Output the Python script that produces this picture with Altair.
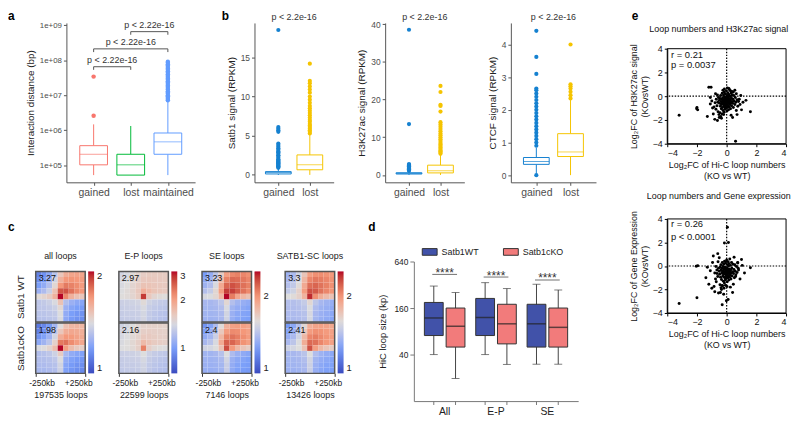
import altair as alt
import pandas as pd

FONT = "Liberation Sans"
GREY_TXT = "#4d4d4d"
GREY_LINE = "#555555"
COOLWARM = ["#3b4cc0", "#7b9ff9", "#dddddd", "#f4987a", "#b40426"]

# ===================== panel a =====================
a_groups = ["gained", "lost", "maintained"]
a_colors = ["#f8766d", "#00ba38", "#619cff"]
a_low = [5.3e4, 5.3e4, 5.3e4]
a_q1 = [1.04e5, 5.3e4, 2.08e5]
a_median = [2.08e5, 1.04e5, 4.7e5]
a_q3 = [3.66e5, 2.08e5, 8.4e5]
a_high = [1.48e6, 1.33e6, 6.8e6]
a_out_gained = [2.6e6, 3.4e7]
a_out_lost = []
a_out_maintained = [7.2e6, 7.8e6, 8.5e6, 9.3e6, 1.0e7, 1.1e7, 1.2e7, 1.3e7, 1.45e7,
                    1.6e7, 1.75e7, 1.9e7, 2.1e7, 2.3e7, 2.5e7, 2.75e7, 3.0e7, 3.3e7,
                    3.6e7, 4.0e7, 4.4e7, 4.8e7, 5.3e7, 5.8e7, 6.4e7, 7.0e7, 7.7e7,
                    8.4e7, 9.0e7]
a_comp_left = ["gained", "gained", "lost"]
a_comp_right = ["lost", "maintained", "maintained"]
a_comp_y = [6.5e7, 2.1e8, 6.5e8]
a_comp_tip = [5.3e7, 1.7e8, 5.3e8]
a_comp_label = ["p < 2.22e-16", "p < 2.22e-16", "p < 2.22e-16"]

# ===================== panel b =====================
b_groups = ["gained", "lost"]
b_colors = ["#1581d0", "#f5c400"]
b_pvalue = "p < 2.2e-16"

b1_low = [0.0, 0.0]
b1_q1 = [0.12, 0.65]
b1_median = [0.3, 1.3]
b1_q3 = [0.42, 2.55]
b1_high = [0.85, 5.2]
b1_out_gained = [0.9, 1.0, 1.1, 1.2, 1.3, 1.4, 1.5, 1.6, 1.7, 1.8, 1.9, 2.0, 2.2, 2.4,
                 2.5, 2.7, 2.9, 3.0, 3.2, 3.4, 3.6, 3.8, 4.0, 5.5, 5.7, 5.9, 6.1, 18.5]
b1_out_lost = [5.3, 5.5, 5.7, 5.9, 6.1, 6.3, 6.5, 6.8, 7.0, 7.3, 7.6, 7.9, 8.2, 8.5,
               8.8, 9.2, 9.6, 10.0, 10.5, 10.9, 11.3, 11.7, 12.0, 14.2]

b2_low = [0.0, 0.0]
b2_q1 = [0.25, 0.55]
b2_median = [0.4, 1.1]
b2_q3 = [0.6, 2.6]
b2_high = [1.0, 5.5]
b2_out_gained = [1.1, 1.3, 1.5, 1.7, 1.9, 2.1, 2.3, 2.5, 2.7, 2.9, 13.5, 38.5]
b2_out_lost = [5.6, 5.9, 6.2, 6.5, 6.9, 7.3, 7.7, 8.1, 8.5, 9.0, 9.5, 10.0, 10.5, 11.0,
               11.6, 12.2, 12.8, 13.4, 14.0, 16.8, 18.3, 18.6, 22.0, 23.6]

b3_low = [0.05, 0.0]
b3_q1 = [0.33, 0.57]
b3_median = [0.42, 0.71]
b3_q3 = [0.54, 1.27]
b3_high = [0.84, 2.3]
b3_out_gained = [0.0, 0.9, 1.0, 1.1, 1.2, 1.3, 1.4, 1.5, 1.6, 1.7, 1.8, 1.9, 2.0, 2.1,
                 2.2, 2.3, 2.4, 2.5, 2.6, 2.65, 3.1, 3.62, 4.42]
b3_out_lost = [2.35, 2.45, 2.55, 2.65, 2.72, 2.78, 4.0]

# ===================== panel c =====================
c_titles = ["all loops", "E-P loops", "SE loops", "SATB1-SC loops"]
c_counts = ["197535 loops", "22599 loops", "7146 loops", "13426 loops"]
c_wt_scores = ["3.27", "2.97", "3.23", "3.3"]
c_ko_scores = ["1.98", "2.16", "2.4", "2.41"]
c_color_lo = [1.0, 0.7, 1.0, 1.0]
c_color_hi = [2.0, 3.0, 2.5, 2.5]
c_legend_ticks = [[1, 2], [1, 2, 3], [1, 2], [1, 2]]

wt_all = [
    [1.12, 1.16, 1.22, 1.32, 1.50, 1.60, 1.63, 1.64, 1.63],
    [1.15, 1.19, 1.26, 1.38, 1.58, 1.68, 1.69, 1.68, 1.66],
    [1.19, 1.23, 1.30, 1.44, 1.68, 1.76, 1.74, 1.71, 1.67],
    [1.25, 1.29, 1.36, 1.52, 1.85, 1.86, 1.78, 1.72, 1.68],
    [1.43, 1.45, 1.48, 1.58, 2.35, 1.72, 1.58, 1.52, 1.50],
    [1.33, 1.34, 1.36, 1.40, 1.52, 1.30, 1.25, 1.22, 1.21],
    [1.33, 1.33, 1.34, 1.36, 1.44, 1.25, 1.21, 1.19, 1.18],
    [1.32, 1.32, 1.33, 1.34, 1.41, 1.23, 1.19, 1.17, 1.16],
    [1.31, 1.31, 1.32, 1.33, 1.40, 1.22, 1.18, 1.16, 1.15],
]
ko_all = [
    [1.10, 1.13, 1.18, 1.27, 1.42, 1.52, 1.56, 1.57, 1.56],
    [1.12, 1.16, 1.21, 1.32, 1.50, 1.60, 1.62, 1.61, 1.59],
    [1.16, 1.20, 1.26, 1.38, 1.60, 1.68, 1.67, 1.64, 1.61],
    [1.22, 1.26, 1.32, 1.46, 1.76, 1.78, 1.71, 1.66, 1.62],
    [1.40, 1.42, 1.45, 1.54, 2.15, 1.66, 1.54, 1.49, 1.47],
    [1.30, 1.31, 1.33, 1.37, 1.48, 1.28, 1.23, 1.21, 1.20],
    [1.30, 1.30, 1.31, 1.33, 1.41, 1.23, 1.20, 1.18, 1.17],
    [1.29, 1.29, 1.30, 1.31, 1.38, 1.21, 1.18, 1.16, 1.15],
    [1.28, 1.28, 1.29, 1.30, 1.37, 1.20, 1.17, 1.15, 1.14],
]
wt_ep = [
    [1.38, 1.42, 1.48, 1.54, 1.58, 1.60, 1.60, 1.60, 1.59],
    [1.40, 1.44, 1.50, 1.56, 1.62, 1.63, 1.62, 1.61, 1.60],
    [1.42, 1.46, 1.52, 1.58, 1.68, 1.67, 1.64, 1.62, 1.61],
    [1.44, 1.48, 1.53, 1.62, 1.85, 1.74, 1.66, 1.63, 1.61],
    [1.46, 1.48, 1.52, 1.60, 2.75, 1.62, 1.52, 1.48, 1.46],
    [1.34, 1.35, 1.36, 1.38, 1.48, 1.36, 1.32, 1.30, 1.29],
    [1.32, 1.33, 1.34, 1.35, 1.42, 1.32, 1.29, 1.27, 1.26],
    [1.31, 1.32, 1.32, 1.33, 1.39, 1.30, 1.27, 1.25, 1.24],
    [1.30, 1.31, 1.31, 1.32, 1.38, 1.29, 1.26, 1.24, 1.23],
]
ko_ep = [
    [1.36, 1.40, 1.45, 1.50, 1.54, 1.55, 1.55, 1.55, 1.54],
    [1.38, 1.42, 1.47, 1.52, 1.57, 1.58, 1.57, 1.56, 1.55],
    [1.40, 1.44, 1.49, 1.54, 1.62, 1.61, 1.59, 1.57, 1.56],
    [1.42, 1.46, 1.50, 1.57, 1.75, 1.66, 1.60, 1.58, 1.56],
    [1.44, 1.46, 1.49, 1.56, 2.25, 1.57, 1.49, 1.46, 1.44],
    [1.33, 1.34, 1.35, 1.37, 1.45, 1.35, 1.31, 1.29, 1.28],
    [1.31, 1.32, 1.33, 1.34, 1.40, 1.31, 1.28, 1.26, 1.25],
    [1.30, 1.31, 1.31, 1.32, 1.37, 1.29, 1.26, 1.24, 1.23],
    [1.29, 1.30, 1.30, 1.31, 1.36, 1.28, 1.25, 1.23, 1.22],
]
wt_se = [
    [1.25, 1.32, 1.45, 1.68, 1.95, 2.05, 2.08, 2.06, 2.02],
    [1.30, 1.36, 1.50, 1.78, 2.08, 2.18, 2.16, 2.12, 2.06],
    [1.35, 1.41, 1.56, 1.88, 2.20, 2.28, 2.22, 2.15, 2.08],
    [1.42, 1.48, 1.62, 1.95, 2.35, 2.35, 2.24, 2.14, 2.05],
    [1.55, 1.57, 1.62, 1.80, 2.50, 2.10, 1.90, 1.80, 1.74],
    [1.38, 1.38, 1.40, 1.45, 1.62, 1.42, 1.36, 1.33, 1.31],
    [1.37, 1.37, 1.38, 1.41, 1.56, 1.36, 1.32, 1.30, 1.28],
    [1.36, 1.36, 1.37, 1.39, 1.53, 1.34, 1.30, 1.28, 1.27],
    [1.35, 1.35, 1.36, 1.38, 1.52, 1.33, 1.29, 1.27, 1.26],
]
ko_se = [
    [1.22, 1.28, 1.40, 1.60, 1.84, 1.93, 1.95, 1.94, 1.90],
    [1.26, 1.32, 1.45, 1.70, 1.96, 2.04, 2.03, 1.99, 1.94],
    [1.31, 1.37, 1.50, 1.80, 2.08, 2.14, 2.09, 2.03, 1.96],
    [1.38, 1.44, 1.56, 1.87, 2.22, 2.20, 2.10, 2.01, 1.94],
    [1.52, 1.54, 1.58, 1.74, 2.30, 1.98, 1.80, 1.72, 1.67],
    [1.36, 1.36, 1.38, 1.43, 1.58, 1.40, 1.34, 1.31, 1.29],
    [1.35, 1.35, 1.36, 1.39, 1.53, 1.34, 1.30, 1.28, 1.26],
    [1.34, 1.34, 1.35, 1.37, 1.50, 1.32, 1.28, 1.26, 1.25],
    [1.33, 1.33, 1.34, 1.36, 1.49, 1.31, 1.27, 1.25, 1.24],
]
wt_sc = [
    [1.35, 1.40, 1.52, 1.72, 1.95, 2.02, 2.03, 2.01, 1.98],
    [1.38, 1.43, 1.56, 1.80, 2.06, 2.12, 2.10, 2.06, 2.01],
    [1.42, 1.47, 1.60, 1.88, 2.16, 2.20, 2.14, 2.08, 2.02],
    [1.47, 1.52, 1.65, 1.95, 2.28, 2.25, 2.14, 2.06, 2.00],
    [1.58, 1.60, 1.65, 1.82, 2.42, 2.02, 1.86, 1.78, 1.73],
    [1.42, 1.42, 1.44, 1.48, 1.62, 1.45, 1.38, 1.35, 1.33],
    [1.41, 1.41, 1.42, 1.45, 1.57, 1.40, 1.35, 1.33, 1.31],
    [1.40, 1.40, 1.41, 1.43, 1.55, 1.38, 1.34, 1.32, 1.30],
    [1.39, 1.39, 1.40, 1.42, 1.54, 1.37, 1.33, 1.31, 1.29],
]
ko_sc = [
    [1.24, 1.30, 1.42, 1.62, 1.85, 1.92, 1.93, 1.92, 1.89],
    [1.28, 1.34, 1.47, 1.70, 1.96, 2.02, 2.01, 1.97, 1.93],
    [1.33, 1.39, 1.52, 1.79, 2.06, 2.10, 2.05, 2.00, 1.95],
    [1.39, 1.45, 1.57, 1.86, 2.18, 2.15, 2.06, 1.99, 1.93],
    [1.52, 1.54, 1.58, 1.74, 2.28, 1.95, 1.80, 1.72, 1.68],
    [1.38, 1.38, 1.40, 1.44, 1.58, 1.41, 1.35, 1.32, 1.30],
    [1.37, 1.37, 1.38, 1.41, 1.53, 1.36, 1.32, 1.30, 1.28],
    [1.36, 1.36, 1.37, 1.39, 1.51, 1.34, 1.30, 1.28, 1.27],
    [1.35, 1.35, 1.36, 1.38, 1.50, 1.33, 1.29, 1.27, 1.26],
]

# ===================== panel d =====================
d_groups = ["All", "E-P", "SE"]
d_conds = ["Satb1WT", "Satb1cKO"]
d_colors = ["#4152a9", "#f27b7b"]
d_wt_low = [40, 40, 30]
d_wt_q1 = [70.5, 70.5, 50]
d_wt_median = [119, 121, 100]
d_wt_q3 = [189, 213, 179]
d_wt_high = [308, 341, 325]
d_ko_low = [19.6, 29.8, 30]
d_ko_q1 = [50, 55, 50]
d_ko_median = [93, 100, 90]
d_ko_q3 = [160, 179, 160]
d_ko_high = [254, 286, 274]
d_sig_y = [436, 403, 369]
d_sig_label = ["****", "****", "****"]

# ===================== panel e =====================
e1_title = "Loop numbers and H3K27ac signal"
e1_ytitle = ["Log\u2082FC of H3K27ac signal", "(KOvsWT)"]
e1_stats = ["r =  0.21", "p = 0.0037"]
e1_stats_y = [3.45, 2.6]
e1_points = [
    (-0.55, -0.10), (-0.50, -0.35), (-0.48, -0.60), (-0.45, -0.20), (-0.42, -0.85),
    (-0.40, 0.05), (-0.38, -0.45), (-0.36, -1.05), (-0.35, -0.70), (-0.33, -0.25),
    (-0.30, 0.25), (-0.30, -0.55), (-0.28, -0.95), (-0.27, -0.15), (-0.25, -0.40),
    (-0.24, -1.20), (-0.22, -0.65), (-0.21, 0.10), (-0.20, -0.30), (-0.19, -0.80),
    (-0.18, -0.50), (-0.17, -1.35), (-0.16, 0.35), (-0.15, -0.05), (-0.14, -0.60),
    (-0.13, -0.90), (-0.12, -0.20), (-0.11, -1.10), (-0.10, -0.45), (-0.09, 0.20),
    (-0.08, -0.70), (-0.07, -0.35), (-0.06, -1.00), (-0.05, -0.10), (-0.04, -0.55),
    (-0.03, -0.85), (-0.02, 0.45), (-0.01, -0.30), (0.00, -0.65), (0.01, -0.15),
    (0.02, -1.25), (0.03, -0.45), (0.04, 0.05), (0.05, -0.75), (0.06, -0.25),
    (0.07, -0.95), (0.08, 0.30), (0.09, -0.50), (0.10, -0.05), (0.11, -0.80),
    (0.12, -0.35), (0.13, -1.15), (0.14, 0.15), (0.15, -0.60), (0.16, -0.20),
    (0.18, -0.90), (0.19, 0.55), (0.20, -0.40), (0.22, -0.70), (0.23, 0.00),
    (0.25, -0.30), (0.26, -1.05), (0.28, -0.55), (0.30, 0.25), (0.32, -0.15),
    (0.33, -0.80), (0.35, -0.45), (0.37, 0.10), (0.40, -0.60), (0.42, -0.25),
    (0.45, -0.95), (0.48, 0.05), (0.50, -0.40), (0.55, -0.70), (0.58, -0.10),
    (0.62, -0.50), (0.65, 0.20), (0.70, -0.30), (0.75, -0.85), (0.80, -0.45),
    (-0.60, -0.50), (-0.65, -0.80), (-0.70, -0.25), (-0.72, -1.10), (-0.78, -0.55),
    (-0.85, -0.90), (-0.62, 0.10), (-0.58, -1.30), (-0.52, -1.55), (-0.45, -1.40),
    (-0.40, -1.70), (-0.35, -1.85), (-0.30, -1.50), (-0.25, 0.50), (-0.15, 0.60),
    (0.05, 0.70), (0.15, 0.65), (0.25, 0.45), (0.35, 0.40), (0.45, 0.35),
    (-3.20, -1.60), (-2.00, -0.95), (-2.02, -1.05), (-1.95, -1.15), (-1.20, 0.75),
    (-1.05, 0.75), (1.60, -1.30), (0.60, -3.80), (1.30, -0.35), (-1.30, -1.70),
    (-1.10, -0.10), (-1.00, -0.40), (-0.95, -1.00), (-0.90, -1.50), (-0.80, -1.95),
    (-0.62, -2.05), (0.90, -0.70), (1.00, -1.15), (0.85, -0.25), (0.70, -1.55),
    (-0.50, -1.80), (0.30, -1.60), (-0.20, -1.55), (0.55, 0.50), (0.40, -1.80),
    (1.10, -0.50), (-1.10, -0.65), (0.95, 0.05), (-0.75, 0.20), (0.65, -1.20),
]
e2_title = "Loop numbers and Gene expression"
e2_ytitle = ["Log\u2082FC of Gene Expression", "(KOvsWT)"]
e2_stats = ["r = 0.26", "p < 0.0001"]
e2_stats_y = [3.6, 2.45]
e2_points = [
    (-3.20, -3.20), (-2.00, -2.70), (-2.05, -0.02), (-1.95, 0.02), (0.05, 3.30),
    (-0.15, 1.95), (0.12, 2.00), (1.60, -0.15), (-0.30, -3.30), (0.40, -2.25),
    (0.10, -2.85), (-0.02, -2.95), (-1.20, -1.55), (-1.00, -1.90), (-0.80, -2.20),
    (-0.55, -2.30), (-0.42, -2.25), (-0.90, 0.85), (-0.60, 1.05), (-1.10, -0.40),
    (-0.70, -1.35), (1.20, -0.60), (1.00, 0.55), (0.75, 0.25), (0.90, -1.10),
    (0.45, -1.55), (-0.30, -1.65), (0.50, 0.75), (-1.40, -1.00), (-0.65, -0.65),
    (-1.30, -0.10), (0.80, -0.35), (-0.85, -1.75), (-0.35, -2.00), (0.25, -1.80),
    (-0.20, -2.40), (1.05, 0.05), (-0.95, 0.30), (0.60, -0.90), (-0.50, 0.70),
    (-0.55, -0.20), (-0.50, -0.45), (-0.47, -0.70), (-0.44, -0.10), (-0.41, -0.95),
    (-0.39, 0.10), (-0.37, -0.35), (-0.35, -1.15), (-0.33, -0.60), (-0.31, -0.20),
    (-0.29, 0.30), (-0.28, -0.50), (-0.26, -0.85), (-0.25, -0.05), (-0.23, -0.40),
    (-0.22, -1.30), (-0.20, -0.70), (-0.19, 0.15), (-0.18, -0.25), (-0.17, -0.95),
    (-0.16, -0.55), (-0.15, -1.45), (-0.14, 0.40), (-0.13, -0.10), (-0.12, -0.65),
    (-0.11, -1.00), (-0.10, -0.30), (-0.09, -1.20), (-0.08, -0.50), (-0.07, 0.25),
    (-0.06, -0.75), (-0.05, -0.40), (-0.04, -1.05), (-0.03, -0.15), (-0.02, -0.60),
    (-0.01, -0.90), (0.00, 0.50), (0.01, -0.35), (0.02, -0.70), (0.03, -0.20),
    (0.04, -1.35), (0.05, -0.50), (0.06, 0.10), (0.07, -0.80), (0.08, -0.30),
    (0.09, -1.00), (0.10, 0.35), (0.11, -0.55), (0.12, 0.00), (0.13, -0.85),
    (0.14, -0.40), (0.15, -1.20), (0.16, 0.20), (0.17, -0.65), (0.18, -0.25),
    (0.20, -0.95), (0.21, 0.60), (0.22, -0.45), (0.24, -0.75), (0.25, 0.05),
    (0.27, -0.35), (0.29, -1.10), (0.31, -0.60), (0.33, 0.30), (0.35, -0.20),
    (0.37, -0.85), (0.40, -0.50), (0.43, 0.15), (0.46, -0.65), (0.49, -0.30),
    (0.52, -1.00), (0.55, 0.10), (0.58, -0.45), (0.62, -0.75), (0.66, -0.05),
    (0.70, -0.55), (0.74, 0.30), (0.78, -0.20), (-0.60, -0.90), (-0.66, -0.35),
    (-0.72, -0.05), (-0.75, -1.10), (-0.80, -0.60), (-0.58, 0.35), (-0.45, -1.60),
    (-0.38, -1.85), (-0.28, -1.70), (-0.18, -1.90), (-0.08, -1.65), (0.02, -1.75),
]
e_xtitle = ["Log\u2082FC of Hi-C loop numbers", "(KO vs WT)"]
e_ticks = [-4, -2, 0, 2, 4]


# ===================== helpers =====================
def letter_title(text, dx=0, offset=0):
    return alt.TitleParams(text, anchor="start", frame="group", dx=dx, offset=offset,
                           fontSize=12, fontWeight="bold", color="black", font=FONT)


def spacer(w, h=1, letter=None, dx=0, offset=0):
    ch = alt.Chart(pd.DataFrame({"v": pd.Series([], dtype="float64")})).mark_point(opacity=0).encode(
        x=alt.X("v:Q", axis=None), y=alt.Y("v:Q", axis=None)
    ).properties(width=w, height=h)
    if letter:
        ch = ch.properties(title=letter_title(letter, dx=dx, offset=offset))
    return ch


def gg_box(groups, colors, low, q1, med, q3, high, outliers, width, height,
           ydomain, ytype, yvalues, ytitle, box_size, point_size, ylabel_size,
           ylabel_expr=None):
    n = len(groups)
    pos = list(range(1, n + 1))
    stats = pd.DataFrame(dict(pos=pos, c=colors, low=low, q1=q1, med=med, q3=q3, high=high))
    outs = pd.DataFrame([dict(pos=p, c=c, v=v) for p, c, vals in zip(pos, colors, outliers)
                         for v in vals], columns=["pos", "c", "v"])
    label_expr = "[" + ",".join("'%s'" % g for g in groups) + "][datum.value - 1]"
    xs = alt.Scale(domain=[0.4, n + 0.6], nice=False, zero=False)
    xa = alt.Axis(values=pos, labelExpr=label_expr, title=None, grid=False, labelFontSize=10.5,
                  labelColor=GREY_TXT, domainColor=GREY_LINE, tickColor=GREY_LINE, tickSize=3,
                  labelPadding=2, labelFlush=False)
    ys = alt.Scale(type=ytype, domain=ydomain, nice=False, zero=False)
    yargs = dict(values=yvalues, title=ytitle, grid=False, labelFontSize=ylabel_size,
                 labelColor=GREY_TXT, domainColor=GREY_LINE, tickColor=GREY_LINE, tickSize=3,
                 labelPadding=2, titleFontSize=10, titleFontWeight="normal", titleColor="#222",
                 titlePadding=4)
    if ylabel_expr:
        yargs["labelExpr"] = ylabel_expr
    ya = alt.Axis(**yargs)

    def X(f):
        return alt.X(f, scale=xs, axis=xa)

    def Y(f):
        return alt.Y(f, scale=ys, axis=ya)

    col = alt.Color("c:N", scale=None)
    base = alt.Chart(stats)
    layers = [
        base.mark_rule(strokeWidth=1).encode(x=X("pos:Q"), y=Y("low:Q"), y2="q1:Q", color=col),
        base.mark_rule(strokeWidth=1).encode(x=X("pos:Q"), y=Y("q3:Q"), y2="high:Q", color=col),
        base.mark_bar(size=box_size, fill="white", strokeWidth=1, orient="vertical").encode(
            x=X("pos:Q"), y=Y("q1:Q"), y2="q3:Q", stroke=alt.Stroke("c:N", scale=None)),
        base.mark_tick(size=box_size, thickness=1, orient="horizontal").encode(
            x=X("pos:Q"), y=Y("med:Q"), color=col),
        alt.Chart(outs).mark_circle(size=point_size, opacity=1).encode(
            x=X("pos:Q"), y=Y("v:Q"), color=col),
    ]
    return layers, X, Y, pos


# ===================== panel a chart =====================
A_W, A_H = 130, 161
a_layers, aX, aY, a_pos = gg_box(
    a_groups, a_colors, a_low, a_q1, a_median, a_q3, a_high,
    [a_out_gained, a_out_lost, a_out_maintained], A_W, A_H,
    [3.3e4, 1.15e9], "log", [1e5, 1e6, 1e7, 1e8, 1e9], "Interaction distance (bp)",
    28, 20, 8, ylabel_expr="'1e+0' + round(log(datum.value) / LN10)")
idx = {g: p for g, p in zip(a_groups, a_pos)}
comp = pd.DataFrame(dict(
    l=[idx[g] for g in a_comp_left], r=[idx[g] for g in a_comp_right],
    y=a_comp_y, tip=a_comp_tip, label=a_comp_label))
comp["mid"] = (comp["l"] + comp["r"]) / 2
cb = alt.Chart(comp)
a_layers += [
    cb.mark_rule(color=GREY_LINE, strokeWidth=1).encode(x=aX("l:Q"), x2="r:Q", y=aY("y:Q")),
    cb.mark_rule(color=GREY_LINE, strokeWidth=1).encode(x=aX("l:Q"), y=aY("tip:Q"), y2="y:Q"),
    cb.mark_rule(color=GREY_LINE, strokeWidth=1).encode(x=aX("r:Q"), y=aY("tip:Q"), y2="y:Q"),
    cb.mark_text(fontSize=9, color="#333", baseline="bottom", dy=-2).encode(
        x=aX("mid:Q"), y=aY("y:Q"), text="label:N"),
]
chart_a = alt.layer(*a_layers).properties(width=A_W, height=A_H)


# ===================== panel b charts =====================
def b_chart(low, q1, med, q3, high, outg, outl, width, ydomain, yvalues, ytitle):
    layers, X, Y, pos = gg_box(b_groups, b_colors, low, q1, med, q3, high, [outg, outl],
                               width, A_H, ydomain, "linear", yvalues, ytitle, 26, 18, 8.5)
    ptxt = pd.DataFrame(dict(mid=[(pos[0] + pos[-1]) / 2], y=[ydomain[1]], label=[b_pvalue]))
    layers.append(alt.Chart(ptxt).mark_text(fontSize=9, color="#333", baseline="bottom", dy=-1).encode(
        x=X("mid:Q"), y=Y("y:Q"), text="label:N"))
    return alt.layer(*layers).properties(width=width, height=A_H)


chart_b1 = b_chart(b1_low, b1_q1, b1_median, b1_q3, b1_high, b1_out_gained, b1_out_lost, 80,
                   [-0.95, 19.4], [0, 5, 10, 15], "Satb1 signal (RPKM)")
chart_b2 = b_chart(b2_low, b2_q1, b2_median, b2_q3, b2_high, b2_out_gained, b2_out_lost, 80,
                   [-1.95, 40.3], [0, 10, 20, 30, 40], "H3K27ac signal (RPKM)")
chart_b3 = b_chart(b3_low, b3_q1, b3_median, b3_q3, b3_high, b3_out_gained, b3_out_lost, 86,
                   [-0.22, 4.66], [0, 1, 2, 3, 4], "CTCF signal (RPKM)")


# ===================== panel c charts =====================
H_W, H_H = 50, 51


def heatmap(mat, lo, hi, ticks, score, title=None, ytitle=None, xtitle=None, legend=False):
    n = len(mat)
    step = 500.0 / n
    cells = pd.DataFrame([dict(x0=-250 + c * step, x1=-250 + (c + 1) * step,
                               y0=250 - (r + 1) * step, y1=250 - r * step, v=v)
                          for r, row in enumerate(mat) for c, v in enumerate(row)])
    stops = [lo * (hi / lo) ** (k / 4.0) for k in range(5)]
    cscale = alt.Scale(type="log", domain=stops, range=COOLWARM, clamp=True)
    leg = None
    if legend:
        leg = alt.Legend(title=None, orient="right", offset=3, gradientLength=2 * H_H + 1,
                         gradientThickness=6, gradientStrokeWidth=0, values=ticks,
                         labelFontSize=9.5, labelOffset=3, direction="vertical", format="d",
                         labelColor="#222")
    xs = alt.Scale(domain=[-250, 250], nice=False, zero=False)
    ys = alt.Scale(domain=[-250, 250], nice=False, zero=False)
    if xtitle:
        xa = alt.Axis(values=[-250, 250], labelExpr="datum.value < 0 ? '-250kb' : '+250kb'",
                      title=xtitle, tickSize=3, domain=False, labelFlush=True,
                      labelFlushOffset=7, labelFontSize=8.5, titleFontSize=9,
                      titleFontWeight="normal", titlePadding=4, tickColor="#333",
                      labelColor="#222", titleColor="#222", grid=False)
    else:
        xa = None
    if ytitle:
        ya = alt.Axis(title=ytitle, labels=False, ticks=False, domain=False, grid=False,
                      titleFontSize=10, titleFontWeight="normal", titlePadding=10,
                      titleColor="#222")
    else:
        ya = None

    def X(f):
        return alt.X(f, scale=xs, axis=xa)

    def Y(f):
        return alt.Y(f, scale=ys, axis=ya)

    frame = pd.DataFrame(dict(x0=[-250], x1=[250], y0=[-250], y1=[250]))
    label = pd.DataFrame(dict(x=[-250], y=[250], t=[score]))
    ch = alt.layer(
        alt.Chart(cells).mark_rect(strokeWidth=0).encode(
            x=X("x0:Q"), x2="x1:Q", y=Y("y0:Q"), y2="y1:Q",
            color=alt.Color("v:Q", scale=cscale, legend=leg)),
        alt.Chart(frame).mark_rect(filled=False, stroke="#555", strokeWidth=1.5).encode(
            x=X("x0:Q"), x2="x1:Q", y=Y("y0:Q"), y2="y1:Q"),
        alt.Chart(label).mark_text(align="left", baseline="top", dx=3, dy=3, fontSize=9,
                                   color="#111").encode(x=X("x:Q"), y=Y("y:Q"), text="t:N"),
    ).properties(width=H_W, height=H_H)
    if title:
        ch = ch.properties(title=alt.TitleParams(title, anchor="middle", frame="group",
                                                 fontSize=9, fontWeight="normal", offset=10,
                                                 color="#222", font=FONT))
    return ch


wt_mats = [wt_all, wt_ep, wt_se, wt_sc]
ko_mats = [ko_all, ko_ep, ko_se, ko_sc]
heat_top = [heatmap(wt_mats[i], c_color_lo[i], c_color_hi[i], c_legend_ticks[i], c_wt_scores[i],
                    title=c_titles[i], ytitle="Satb1 WT" if i == 0 else None, legend=True)
            for i in range(4)]
heat_bot = [heatmap(ko_mats[i], c_color_lo[i], c_color_hi[i], c_legend_ticks[i], c_ko_scores[i],
                    ytitle="Satb1cKO" if i == 0 else None, xtitle=c_counts[i])
            for i in range(4)]

# ===================== panel d chart =====================
D_W, D_H = 166, 141
d_rows = []
for i, g in enumerate(d_groups):
    d_rows.append(dict(g=g, cond=d_conds[0], low=d_wt_low[i], q1=d_wt_q1[i], med=d_wt_median[i],
                       q3=d_wt_q3[i], high=d_wt_high[i]))
    d_rows.append(dict(g=g, cond=d_conds[1], low=d_ko_low[i], q1=d_ko_q1[i], med=d_ko_median[i],
                       q3=d_ko_q3[i], high=d_ko_high[i]))
d_df = pd.DataFrame(d_rows)
d_df["tick_top"] = 10.0
d_df["tick_bot"] = 8.9
d_sig = pd.DataFrame(dict(g=d_groups, y=d_sig_y, label=d_sig_label))

dxs = alt.Scale(domain=d_groups, paddingInner=0, paddingOuter=0.1)
dxa = alt.Axis(title=None, labelAngle=0, ticks=False, labelFontSize=10.5, labelColor="#222",
               domainColor="#777", labelPadding=6, grid=False)
dys = alt.Scale(type="log", domain=[10, 640], nice=False)
dya = alt.Axis(values=[40, 160, 640], title="HiC loop size (kp)", labelFontSize=8.5,
               tickSize=4, domainColor="#777", tickColor="#777", labelColor="#222",
               titleFontSize=9.5, titleFontWeight="normal", titleColor="#222", titlePadding=6,
               grid=False)
doff = alt.XOffset("cond:N", scale=alt.Scale(domain=d_conds, paddingOuter=0.18, paddingInner=0))


def DX(f):
    return alt.X(f, scale=dxs, axis=dxa)


def DY(f):
    return alt.Y(f, scale=dys, axis=dya)


dbase = alt.Chart(d_df)
chart_d = alt.layer(
    dbase.mark_rule(color="#444", strokeWidth=1).encode(x=DX("g:N"), xOffset=doff, y=DY("low:Q"), y2="high:Q"),
    dbase.mark_tick(size=8, thickness=1, orient="horizontal", color="#444").encode(
        x=DX("g:N"), xOffset=doff, y=DY("low:Q")),
    dbase.mark_tick(size=8, thickness=1, orient="horizontal", color="#444").encode(
        x=DX("g:N"), xOffset=doff, y=DY("high:Q")),
    dbase.mark_bar(size=19, stroke="#333", strokeWidth=1, opacity=1).encode(
        x=DX("g:N"), xOffset=doff, y=DY("q1:Q"), y2="q3:Q",
        color=alt.Color("cond:N", scale=alt.Scale(domain=d_conds, range=d_colors),
                        legend=alt.Legend(orient="none", legendX=8, legendY=-18,
                                          direction="horizontal", title=None,
                                          symbolType="M-1,-0.45H1V0.45H-1Z", symbolSize=225,
                                          symbolStrokeColor="#333", symbolStrokeWidth=1,
                                          symbolOpacity=1, labelFontSize=9, labelOffset=4,
                                          columnPadding=22, labelColor="#222"))),
    dbase.mark_tick(size=19, thickness=1.5, orient="horizontal", color="#222").encode(
        x=DX("g:N"), xOffset=doff, y=DY("med:Q")),
    dbase.mark_rule(color="#777", strokeWidth=1).encode(
        x=DX("g:N"), xOffset=doff, y=DY("tick_top:Q"), y2="tick_bot:Q"),
    alt.Chart(d_sig).mark_tick(size=25, thickness=1, orient="horizontal", color="#333").encode(
        x=DX("g:N"), y=DY("y:Q")),
    alt.Chart(d_sig).mark_text(fontSize=12, baseline="alphabetic", dy=2.5, color="#333").encode(
        x=DX("g:N"), y=DY("y:Q"), text="label:N"),
).properties(width=D_W, height=D_H)


# ===================== panel e charts =====================
E_W = 120


def scatter(points, title, ytitle, stats, stats_y, height):
    pts = pd.DataFrame(points, columns=["x", "y"])
    es = alt.Scale(domain=[-4, 4], nice=False, zero=False)
    common = dict(values=e_ticks, grid=False, labelFontSize=9, tickSize=3, domainColor="black",
                  tickColor="black", labelColor="#111", titleFontSize=9,
                  titleFontWeight="normal", titleColor="#111", titleLineHeight=11)
    xa = alt.Axis(title=e_xtitle, titlePadding=3, **common)
    ya = alt.Axis(title=ytitle, titlePadding=3, **common)

    def X(f):
        return alt.X(f, scale=es, axis=xa)

    def Y(f):
        return alt.Y(f, scale=es, axis=ya)

    frame = pd.DataFrame(dict(x0=[-4], x1=[4], y0=[-4], y1=[4]))
    zero = pd.DataFrame(dict(z=[0]))
    txt = pd.DataFrame(dict(x=[-3.75, -3.75], y=stats_y, t=stats))
    return alt.layer(
        alt.Chart(zero).mark_rule(color="black", strokeWidth=1.2, strokeDash=[1.5, 1.5]).encode(x=X("z:Q")),
        alt.Chart(zero).mark_rule(color="black", strokeWidth=1.2, strokeDash=[1.5, 1.5]).encode(y=Y("z:Q")),
        alt.Chart(pts).mark_circle(size=9, color="black", opacity=1).encode(x=X("x:Q"), y=Y("y:Q")),
        alt.Chart(frame).mark_rect(filled=False, stroke="black", strokeWidth=1).encode(
            x=X("x0:Q"), x2="x1:Q", y=Y("y0:Q"), y2="y1:Q"),
        alt.Chart(txt).mark_text(align="left", baseline="middle", fontSize=9.5, color="#111").encode(
            x=X("x:Q"), y=Y("y:Q"), text="t:N"),
    ).properties(width=E_W, height=height,
                 title=alt.TitleParams(title, anchor="middle", frame="group", dx=-8, fontSize=9,
                                       fontWeight="normal", offset=9.5, color="#111", font=FONT))


chart_e1 = scatter(e1_points, e1_title, e1_ytitle, e1_stats, e1_stats_y, 96)
chart_e2 = scatter(e2_points, e2_title, e2_ytitle, e2_stats, e2_stats_y, 95)

# ===================== layout (flush bounds everywhere) =====================
IND = dict(color="independent", x="independent", y="independent")

row1 = alt.hconcat(
    spacer(59, letter="a"), chart_a, spacer(60, letter="b", dx=27), chart_b1, spacer(52),
    chart_b2, spacer(47), chart_b3, spacing=0, bounds="flush"
).resolve_scale(**IND)

cgrid = alt.concat(*([spacer(H_W, 9) for _ in range(4)] + heat_top + heat_bot), columns=4,
                   spacing={"row": 1, "column": 34}, bounds="flush").resolve_scale(**IND)

row2 = alt.hconcat(
    spacer(28, letter="c", offset=28), cgrid,
    spacer(382, letter="d", dx=336, offset=28), chart_d, spacing=0, bounds="flush"
).resolve_scale(**IND)

leftcol = alt.vconcat(row1, row2, spacing=241, bounds="flush").resolve_scale(**IND)

rightcol = alt.vconcat(
    spacer(E_W, 26, letter="e", dx=-36), chart_e1, spacer(E_W, 76), chart_e2,
    spacing=0, bounds="flush"
).resolve_scale(**IND)

chart = alt.hconcat(leftcol, rightcol, spacing=666, bounds="flush").resolve_scale(**IND).properties(
    padding=0).configure(font=FONT).configure_view(stroke=None).configure_axis(grid=False)

chart.save("out.html", embed_options={"renderer": "svg", "actions": False})
